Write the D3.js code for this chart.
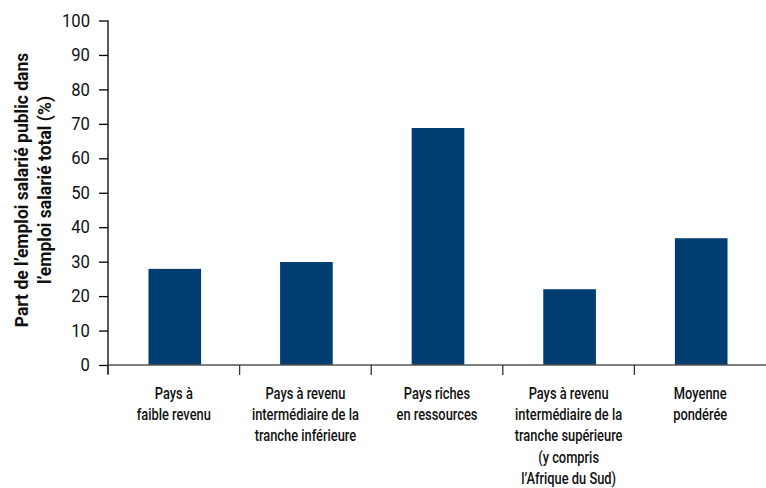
<!DOCTYPE html>
<html><head><meta charset="utf-8">
<script src="https://cdn.jsdelivr.net/npm/d3@7"></script>
<style>body{margin:0;background:#fff}svg{display:block}text{font-family:Roboto,"Open Sans",sans-serif}</style>
</head><body><svg id="c" width="766" height="488"></svg>
<script>
const categories = [
  ["Pays à","faible revenu"],
  ["Pays à revenu","intermédiaire de la","tranche inférieure"],
  ["Pays riches","en ressources"],
  ["Pays à revenu","intermédiaire de la","tranche supérieure","(y compris","l\u2019Afrique du Sud)"],
  ["Moyenne","pondérée"]
];
const values = [27.9, 29.9, 68.8, 22.0, 36.8];
const yTicks = [0,10,20,30,40,50,60,70,80,90,100];
const yTitle = ["Part de l\u2019emploi salarié public dans","l\u2019emploi salarié total (%)"];

(function(){
const svg = d3.select("#c");
const mLeft = 108, mRight = 766, mTop = 20.5, mBottom = 365;
const x = d3.scaleBand().domain(d3.range(categories.length)).range([mLeft, mRight]).paddingInner(0).paddingOuter(0);
const y = d3.scaleLinear().domain([0,100]).range([mBottom, mTop]);
const bw = x.bandwidth()*0.4;

svg.selectAll("rect.bar").data(values).enter().append("rect")
  .attr("x",(d,i)=>x(i)+x.bandwidth()/2-bw/2+1)
  .attr("width",bw)
  .attr("y",d=>y(d))
  .attr("height",d=>y(0)-y(d))
  .attr("fill","#003d71");

const ya = svg.append("g").attr("transform",`translate(${mLeft},0)`)
  .call(d3.axisLeft(y).tickValues(yTicks).tickSize(9).tickPadding(9));
ya.select(".domain").attr("stroke","#000").attr("stroke-width",1.3).attr("d",`M0,${mTop}V${mBottom+9}`);
ya.selectAll(".tick line").attr("stroke","#000").attr("stroke-width",1.3);
ya.selectAll(".tick text").attr("font-size",17.5).attr("fill","#111")
  .attr("transform","scale(0.95,1)").attr("x",-19);

svg.append("line").attr("x1",mLeft).attr("x2",mRight).attr("y1",mBottom).attr("y2",mBottom)
  .attr("stroke","#555").attr("stroke-width",1.6);
const bounds = d3.range(categories.length).map(i=>x(i));
svg.selectAll("line.xt").data(bounds).enter().append("line")
  .attr("x1",d=>d).attr("x2",d=>d).attr("y1",mBottom).attr("y2",mBottom+10)
  .attr("stroke","#333").attr("stroke-width",1.3);

const lab = svg.selectAll("text.cat").data(categories).enter().append("text")
  .attr("text-anchor","middle").attr("font-size",16.5).attr("font-weight",500).attr("fill","#111")
  .attr("transform",(d,i)=>`translate(${x(i)+x.bandwidth()/2},398.5) scale(0.78,1)`);
lab.selectAll("tspan").data(d=>d).enter().append("tspan")
  .attr("x",0).attr("dy",(d,i)=>i?21.5:0).text(d=>d);

const yt = svg.append("text").attr("text-anchor","middle").attr("font-size",17.5).attr("font-weight","bold")
  .attr("fill","#111").attr("transform","translate(28,190) rotate(-90)");
yt.selectAll("tspan").data(yTitle).enter().append("tspan").attr("x",0).attr("dy",(d,i)=>i?22.5:0).text(d=>d);
})();
</script></body></html>
